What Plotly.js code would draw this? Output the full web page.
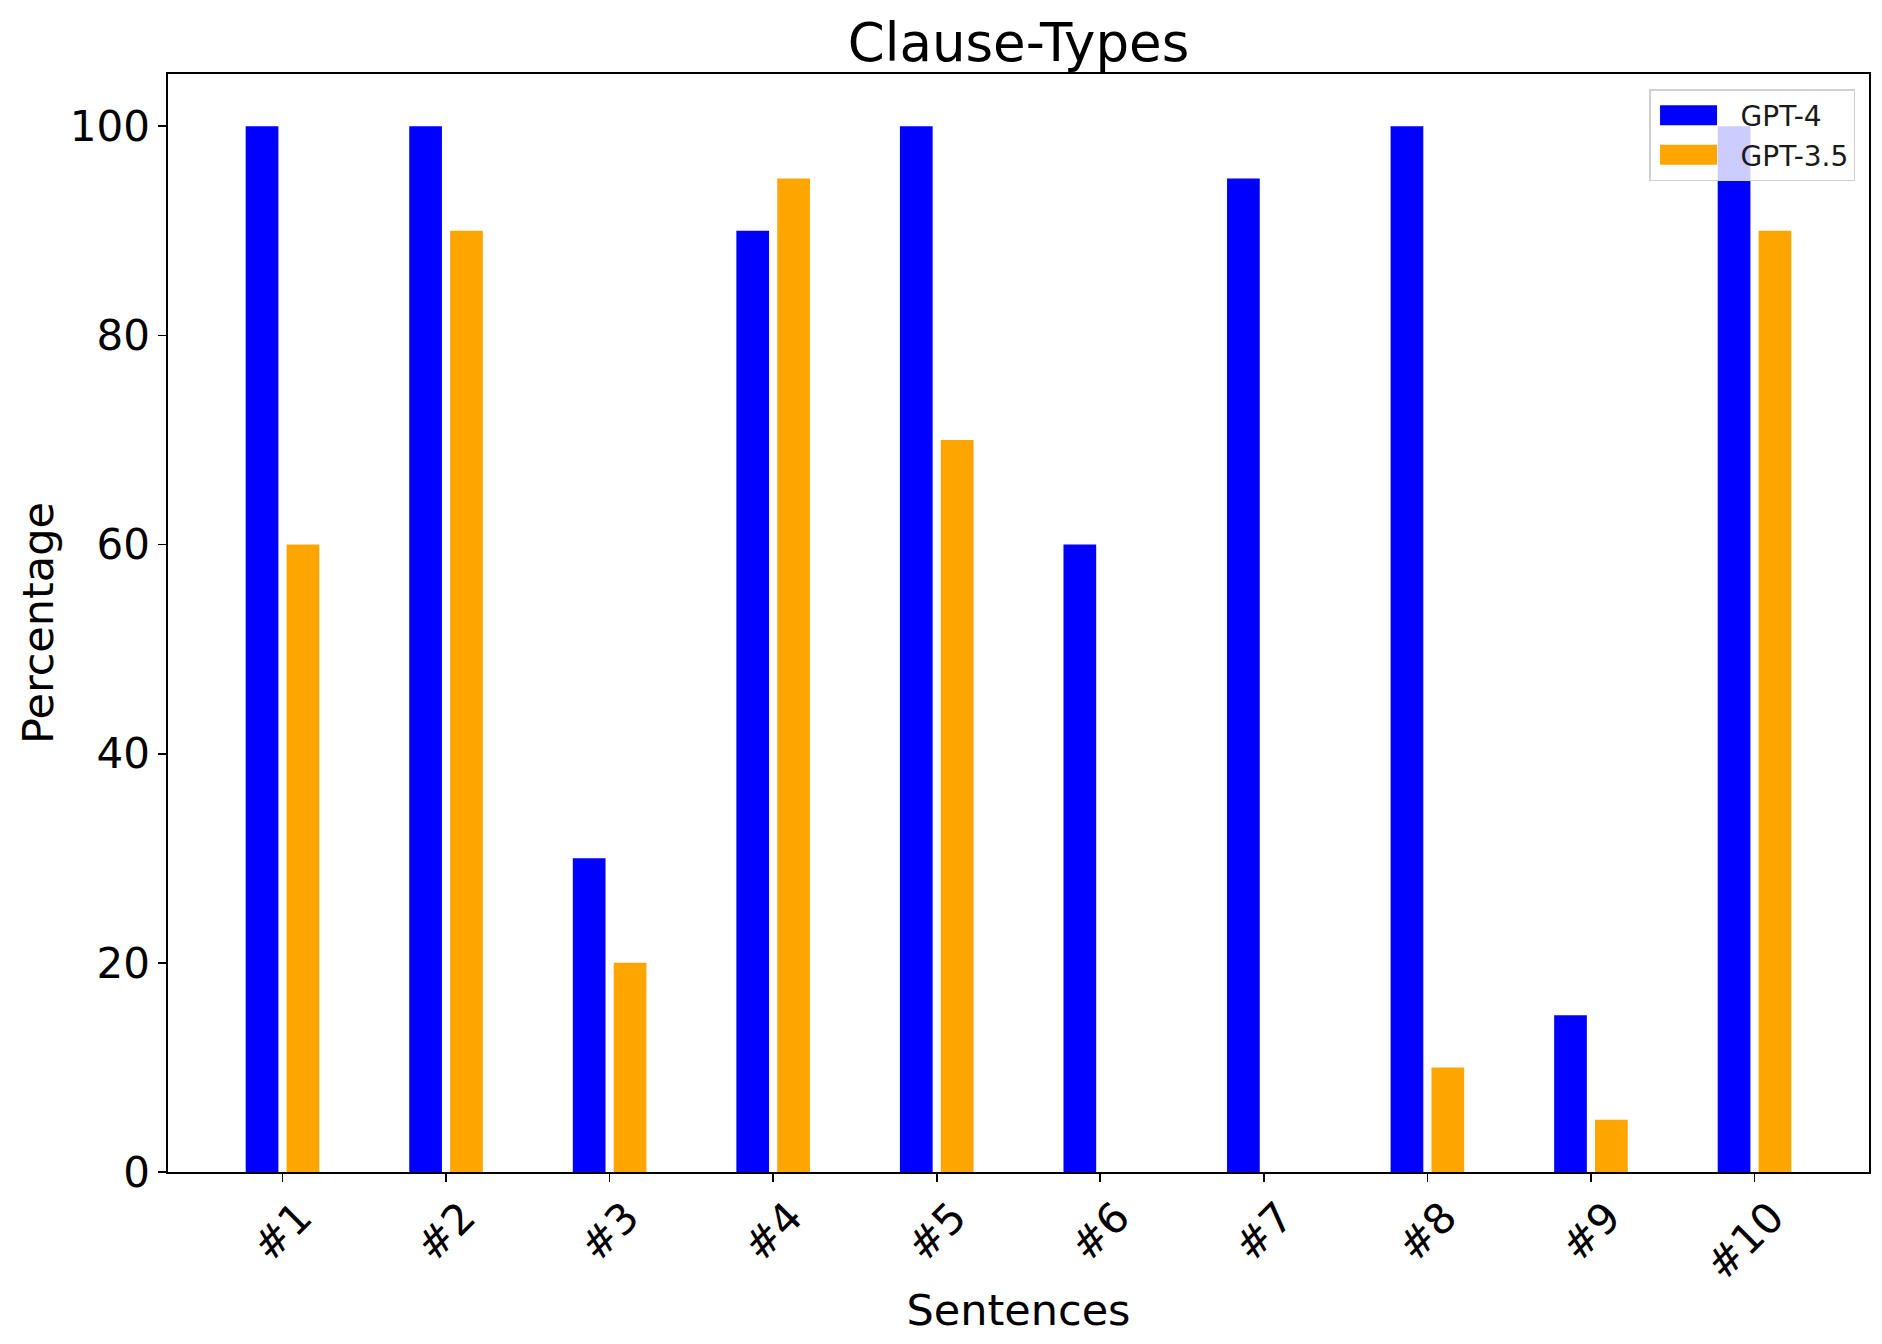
<!DOCTYPE html>
<html>
<head>
<meta charset="utf-8">
<script src="https://cdn.plot.ly/plotly-3.0.1.min.js"></script>
<style>html,body{margin:0;padding:0;background:#fff;}#chart{width:1882px;height:1344px;}</style>
</head>
<body>
<div id="chart"></div>
<script>
var categories = ["#1", "#2", "#3", "#4", "#5", "#6", "#7", "#8", "#9", "#10"];
var gpt4 = [100, 100, 30, 90, 100, 60, 95, 100, 15, 100];
var gpt35 = [60, 90, 20, 95, 70, 0, 0, 10, 5, 90];
var yTicks = [0, 20, 40, 60, 80, 100];

var FONT = "DejaVu Sans, Liberation Sans, sans-serif";

var traces = [
  {type: "bar", name: "GPT-4", x: categories, y: gpt4, marker: {color: "#0000ff"}},
  {type: "bar", name: "GPT-3.5", x: categories, y: gpt35, marker: {color: "#ffa500"}}
];

var axisCommon = {
  showline: true, linecolor: "#000", linewidth: 1.7, mirror: true,
  ticks: "outside", ticklen: 8, tickwidth: 1.7, tickcolor: "#000",
  showgrid: false, zeroline: false,
  tickfont: {family: FONT, size: 42, color: "#000"}
};

var layout = {
  width: 1882, height: 1344,
  margin: {l: 168, r: 13, t: 74, b: 172, pad: 0},
  paper_bgcolor: "#fff", plot_bgcolor: "#fff",
  font: {family: FONT, color: "#000"},
  title: {text: "Clause-Types", font: {family: FONT, size: 53, color: "#000"},
          x: 0.5, xref: "paper", xanchor: "center", y: 1 - 42/1344, yref: "container", yanchor: "middle"},
  barmode: "group", bargap: 0.5, bargroupgap: 0.2,
  xaxis: Object.assign({}, axisCommon, {
    type: "category", range: [-0.7, 9.7], tickangle: -45,
    tickvals: categories, ticktext: categories,
    ticklabelshift: 17, ticklabelstandoff: -6,
    title: {text: "Sentences", font: {family: FONT, size: 43, color: "#000"}, standoff: 6}
  }),
  yaxis: Object.assign({}, axisCommon, {
    range: [0, 105], tickvals: yTicks, ticktext: yTicks.map(String),
    title: {text: "Percentage", font: {family: FONT, size: 43, color: "#000"}, standoff: 3}
  }),
  showlegend: true,
  legend: {
    x: 0.9918, xanchor: "right", y: 0.9863, yanchor: "top",
    bgcolor: "rgba(255,255,255,0.8)", bordercolor: "#d0d0d0", borderwidth: 1.5,
    font: {family: FONT, size: 28, color: "#1a1a1a"},
    itemwidth: 80, traceorder: "normal"
  }
};

Plotly.newPlot("chart", traces, layout, {staticPlot: true, displayModeBar: false}).then(function () {
  document.querySelectorAll("#chart .legend .legendpoints path").forEach(function (p) {
    p.setAttribute("d", "M-35.5,-10H21.5V10H-35.5Z");
  });
});
</script>
</body>
</html>
